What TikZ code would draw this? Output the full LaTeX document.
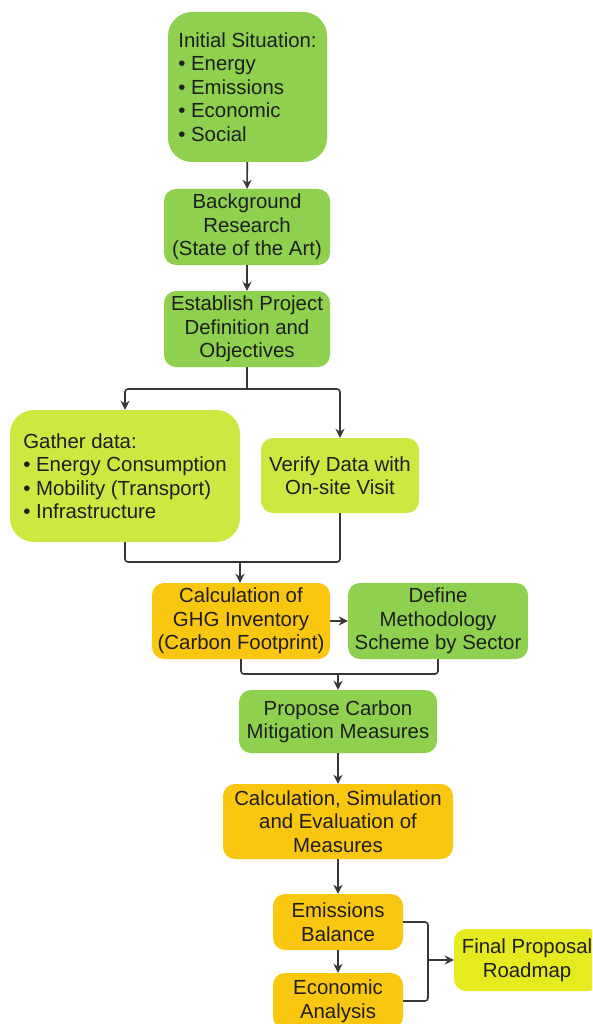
\documentclass[tikz,border=0pt]{standalone}
\usepackage{fontspec}
\setmainfont{Liberation Sans}
\usetikzlibrary{arrows.meta}
\definecolor{boxgreen}{RGB}{143,209,79}
\definecolor{boxlime}{RGB}{206,231,65}
\definecolor{boxorange}{RGB}{250,199,16}
\definecolor{boxyellow}{RGB}{229,235,30}
\definecolor{linegray}{RGB}{55,55,55}
\definecolor{txtgray}{RGB}{30,30,30}
\tikzset{
  box/.style={rounded corners=12, inner sep=0pt, text=txtgray,
    font=\fontsize{20.4}{23.5}\selectfont, align=center},
  bigbox/.style={box, rounded corners=24, align=left},
  link/.style={draw=linegray, line width=1.6pt, rounded corners=3},
  arr/.style={link, -{Stealth[length=9pt,width=9pt]}}
}
\begin{document}
\begin{tikzpicture}[x=1pt,y=-1pt]
            \useasboundingbox (0,0) rectangle (592,1024);
            \clip (0,0) rectangle (592,1024);
            \fill[white] (0,0) rectangle (592,1024);
            \node[bigbox, fill=boxgreen, minimum width=159, minimum height=150] (init) at (247.5,87)
              {Initial Situation:\\• Energy\\• Emissions\\• Economic\\• Social};
            \node[box, fill=boxgreen, minimum width=166, minimum height=76] (research) at (247,227)
              {Background\\Research\\(State of the Art)};
            \node[box, fill=boxgreen, minimum width=166, minimum height=76] (define) at (247,329)
              {Establish Project\\Definition and\\Objectives};
            \node[bigbox, fill=boxlime, minimum width=230, minimum height=132] (gather) at (125,476)
              {Gather data:\\• Energy Consumption\\• Mobility (Transport)\\• Infrastructure};
            \node[box, fill=boxlime, minimum width=158, minimum height=75] (verify) at (340,475.5)
              {Verify Data with\\On-site Visit};
            \node[box, fill=boxorange, minimum width=178, minimum height=76] (ghg) at (241,621)
              {Calculation of\\GHG Inventory\\(Carbon Footprint)};
            \node[box, fill=boxgreen, minimum width=180, minimum height=76] (scheme) at (438,621)
              {Define\\Methodology\\Scheme by Sector};
            \node[box, fill=boxgreen, minimum width=198, minimum height=63] (propose) at (338,721.5)
              {Propose Carbon\\Mitigation Measures};
            \node[box, fill=boxorange, minimum width=230, minimum height=75] (evaluate) at (338,821.5)
              {Calculation, Simulation\\and Evaluation of\\Measures};
            \node[box, fill=boxorange, minimum width=130, minimum height=56] (balance) at (338,922)
              {Emissions\\Balance};
            \node[box, fill=boxorange, minimum width=130, minimum height=56] (economic) at (338,1001)
              {Economic\\Analysis};
            \node[box, fill=boxyellow, minimum width=146, minimum height=62] (final) at (527,960)
              {Final Proposal\\Roadmap};
            \coordinate (split) at (247,389);
            \coordinate (merge1) at (240,562);
            \coordinate (merge2) at (338,674);
            \coordinate (merge3) at (428,960);
            \draw[arr] (init) -- (research);
            \draw[arr] (research) -- (define);
            \draw[link] (define.south) -- (split);
            \draw[arr] (split) -| (gather.north);
            \draw[arr] (split) -| (verify.north);
            \draw[link] (gather.south) |- (merge1);
            \draw[link] (verify.south) |- (merge1);
            \draw[arr] (merge1) -- (merge1 |- ghg.north);
            \draw[arr] (ghg) -- (scheme);
            \draw[link] (ghg.south) |- (merge2);
            \draw[link] (scheme.south) |- (merge2);
            \draw[arr] (merge2) -- (propose.north);
            \draw[arr] (propose) -- (evaluate);
            \draw[arr] (evaluate) -- (balance);
            \draw[arr] (balance) -- (economic);
            \draw[link] (balance.east) -| (merge3);
            \draw[link] (economic.east) -| (merge3);
            \draw[arr] (merge3) -- (final);
        \end{tikzpicture}
\end{document}
